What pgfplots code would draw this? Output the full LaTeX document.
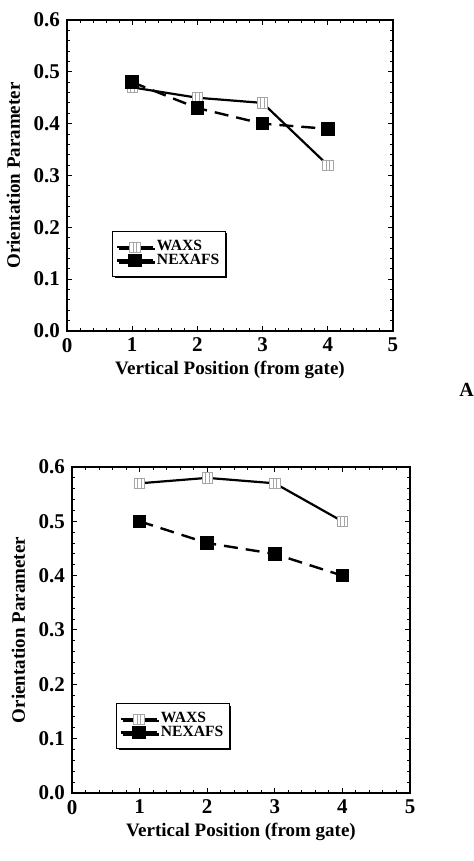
\documentclass[border=0pt]{standalone}
\usepackage{fontspec}
\setmainfont{Liberation Serif}
\usepackage{pgfplots}
\pgfplotsset{compat=1.18}
\usetikzlibrary{shadows}

% open square with two bars inside (WAXS marker)
\pgfdeclareplotmark{boxbars}{%
  \pgfpathrectangle{\pgfpoint{-\pgfplotmarksize}{-\pgfplotmarksize}}{\pgfpoint{2\pgfplotmarksize}{2\pgfplotmarksize}}%
  \pgfusepathqfillstroke
  \pgfpathmoveto{\pgfpoint{-0.35\pgfplotmarksize}{-\pgfplotmarksize}}%
  \pgfpathlineto{\pgfpoint{-0.35\pgfplotmarksize}{\pgfplotmarksize}}%
  \pgfpathmoveto{\pgfpoint{0.35\pgfplotmarksize}{-\pgfplotmarksize}}%
  \pgfpathlineto{\pgfpoint{0.35\pgfplotmarksize}{\pgfplotmarksize}}%
  \pgfusepathqstroke
}

\pgfplotsset{
  panel/.style={
    scale only axis,
    xmin=0, xmax=5, ymin=0, ymax=0.6,
    xtick={0,1,2,3,4,5},
    ytick={0,0.1,0.2,0.3,0.4,0.5,0.6},
    minor x tick num=4, minor y tick num=4,
    tick align=inside,
    major tick length=2.5pt, minor tick length=1.5pt,
    every tick/.style={black, line width=0.5pt},
    axis line style={line width=0.6pt},
    yticklabel style={/pgf/number format/.cd, fixed, fixed zerofill, precision=1},
    /pgf/number format/assume math mode=true,
    font=\bfseries\fontsize{9.5}{11}\selectfont,
    tick label style={font=\bfseries\fontsize{10.5}{12}\selectfont},
    xlabel={Vertical Position (from gate)},
    xlabel style={yshift=2.5pt},
    ylabel={Orientation Parameter},
    legend cell align=left,
    legend image code/.code={%
      \draw[mark repeat=2,mark phase=2,##1] plot coordinates {(0pt,0pt)(9pt,0pt)(18pt,0pt)};},
    legend style={draw=black, line width=0.6pt, fill=white,
      inner xsep=1.5pt, inner ysep=3pt, row sep=-3pt,
      nodes={inner sep=1.5pt},
      font=\bfseries\fontsize{7.8}{8}\selectfont,
      drop shadow={shadow xshift=1pt, shadow yshift=-1pt, fill=black, opacity=1}},
  },
  waxs/.style={black, line width=1.1pt, mark=boxbars, mark size=2.6pt,
    mark options={solid, draw=gray!70, fill=white, line width=0.4pt}},
  nexafs/.style={black, line width=1.2pt, dash pattern=on 7pt off 4pt,
    mark=square*, mark size=2.8pt, mark options={solid, fill=black},
    legend image post style={solid}},
}

\begin{document}
\begin{tikzpicture}
\path[use as bounding box] (0pt,0pt) rectangle (237pt,-430.5pt);

% ---- top panel ----
\begin{axis}[panel,
  at={(33.5pt,-10pt)}, anchor=north west,
  width=163pt, height=155.5pt,
  legend style={at={(0.138,0.322)}, anchor=north west},
]
\addplot[waxs] coordinates {(1,0.47) (2,0.45) (3,0.44) (4,0.32)};
\addlegendentry{WAXS}
\addplot[nexafs] coordinates {(1,0.48) (2,0.43) (3,0.40) (4,0.39)};
\addlegendentry{NEXAFS}
\end{axis}

\node[font=\bfseries\fontsize{10}{11}\selectfont] at (233.3pt,-195pt) {A};

% ---- bottom panel ----
\begin{axis}[panel,
  at={(36pt,-233.5pt)}, anchor=north west,
  width=169pt, height=163pt,
  legend style={at={(0.130,0.276)}, anchor=north west},
]
\addplot[waxs] coordinates {(1,0.57) (2,0.58) (3,0.57) (4,0.50)};
\addlegendentry{WAXS}
\addplot[nexafs] coordinates {(1,0.50) (2,0.46) (3,0.44) (4,0.40)};
\addlegendentry{NEXAFS}
\end{axis}
\end{tikzpicture}
\end{document}
